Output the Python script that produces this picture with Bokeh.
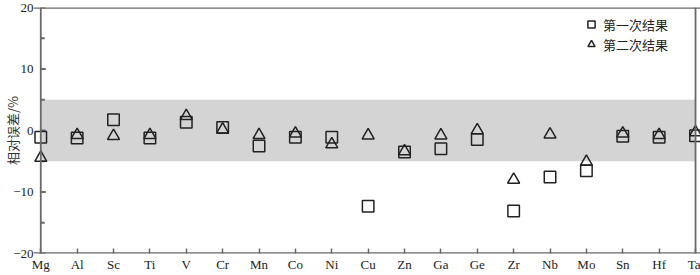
from bokeh.plotting import figure
from bokeh.models import (Range1d, FixedTicker, Legend, LegendItem, ColumnDataSource, Span)
from bokeh.embed import file_html
from bokeh.resources import INLINE

elements = ["Mg", "Al", "Sc", "Ti", "V", "Cr", "Mn", "Co", "Ni", "Cu",
            "Zn", "Ga", "Ge", "Zr", "Nb", "Mo", "Sn", "Hf", "Ta"]
first_run = [-1.1, -1.2, 1.75, -1.2, 1.35, 0.5, -2.5, -1.1, -1.1, -12.3,
             -3.5, -2.95, -1.45, -13.1, -7.55, -6.55, -0.95, -1.1, -0.85]
second_run = [-4.45, -0.75, -0.9, -0.75, 2.35, 0.15, -0.75, -0.5, -2.25, -0.8,
              -3.4, -0.8, 0.05, -8.0, -0.65, -5.1, -0.5, -0.75, -0.3]
band_low, band_high = -5, 5
y_low, y_high = -20, 20
major_step = 10
legend_labels = ["第一次结果", "第二次结果"]
y_title = "相对误差/%"

xs = list(range(len(elements)))
src = ColumnDataSource(dict(x=xs, a=first_run, b=second_run))

ink = "#222222"
axis_col = "dimgray"
serif = "'Liberation Serif', 'Times New Roman', serif"
cjk = "'Noto Sans CJK SC', sans-serif"

# small padding so that the edge markers are not clipped by the frame
pad_l, pad_r = 0.2, 0.137
p = figure(width=700, height=275, output_backend="svg", toolbar_location=None,
           x_range=Range1d(xs[0] - pad_l, xs[-1] + pad_r), y_range=Range1d(y_low, y_high),
           min_border_left=33, min_border_right=0, min_border_top=7, min_border_bottom=22)
p.grid.visible = False
p.background_fill_color = "white"
p.outline_line_color = None

# shaded +-5 % band
p.quad(left=[xs[0]], right=[xs[-1]], bottom=[band_low], top=[band_high],
       fill_color="#d4d4d4", line_alpha=0, level="underlay")

# axes box: vertical edges at the first/last category, horizontal at the y limits
for loc in (xs[0], xs[-1]):
    p.add_layout(Span(location=loc, dimension="height", line_color=axis_col,
                      line_width=1.8, line_alpha=1.0))
for loc in (y_low, y_high):
    p.add_layout(Span(location=loc, dimension="width", line_color=axis_col,
                      line_width=2.5, line_alpha=1.0))

# inward y ticks on the left edge of the box
major_vals = list(range(y_low, y_high + 1, major_step))
minor_vals = [v + major_step / 2 for v in major_vals[:-1]]
p.ray(x=[xs[0]] * len(major_vals), y=major_vals, length=5, length_units="screen",
      angle=0, line_color=axis_col, line_width=2)
p.ray(x=[xs[0]] * len(minor_vals), y=minor_vals, length=4, length_units="screen",
      angle=0, line_color=axis_col, line_width=2)

r1 = p.scatter("x", "a", source=src, marker="square", size=11.5, fill_alpha=0,
               line_color=ink, line_width=1.5)
r2 = p.scatter("x", "b", source=src, marker="triangle", size=12, fill_alpha=0,
               line_color=ink, line_width=1.5)

# bottom axis: labels + inward ticks (spans draw the line)
xa = p.xaxis[0]
xa.ticker = FixedTicker(ticks=xs)
xa.major_label_overrides = {i: n for i, n in zip(xs, elements)}
xa.axis_line_color = None
xa.major_tick_line_color = axis_col
xa.major_tick_line_width = 1.5
xa.major_tick_in = 5
xa.major_tick_out = 0
xa.minor_tick_line_color = None
xa.major_label_standoff = 3

# left axis: labels only (ticks drawn as rays at the box edge)
ya = p.yaxis[0]
ya.ticker = FixedTicker(ticks=major_vals)
ya.major_label_overrides = {v: (str(v) if v >= 0 else "\u2212" + str(-v)) for v in major_vals}
ya.axis_line_color = None
ya.major_tick_line_color = None
ya.minor_tick_line_color = None
ya.major_tick_in = 0
ya.major_tick_out = 0
ya.minor_tick_in = 0
ya.minor_tick_out = 0
ya.major_label_standoff = 0
ya.axis_label = y_title
ya.axis_label_text_font = cjk
ya.axis_label_text_font_style = "normal"
ya.axis_label_text_font_size = "13px"
ya.axis_label_text_color = "#333333"
ya.axis_label_standoff = -12

for ax in (xa, ya):
    ax.major_label_text_font = serif
    ax.major_label_text_font_size = "13px"
    ax.major_label_text_color = ink

legend = Legend(items=[LegendItem(label=legend_labels[0], renderers=[r1]),
                       LegendItem(label=legend_labels[1], renderers=[r2])],
                location=(549, 199), padding=0, margin=0, spacing=0,
                glyph_width=18, glyph_height=20, label_height=20, label_standoff=3,
                label_text_font=cjk, label_text_font_size="13px", label_text_color=ink,
                border_line_alpha=0, background_fill_alpha=0)
p.add_layout(legend)

open("out.html", "w").write(file_html(p, INLINE))
